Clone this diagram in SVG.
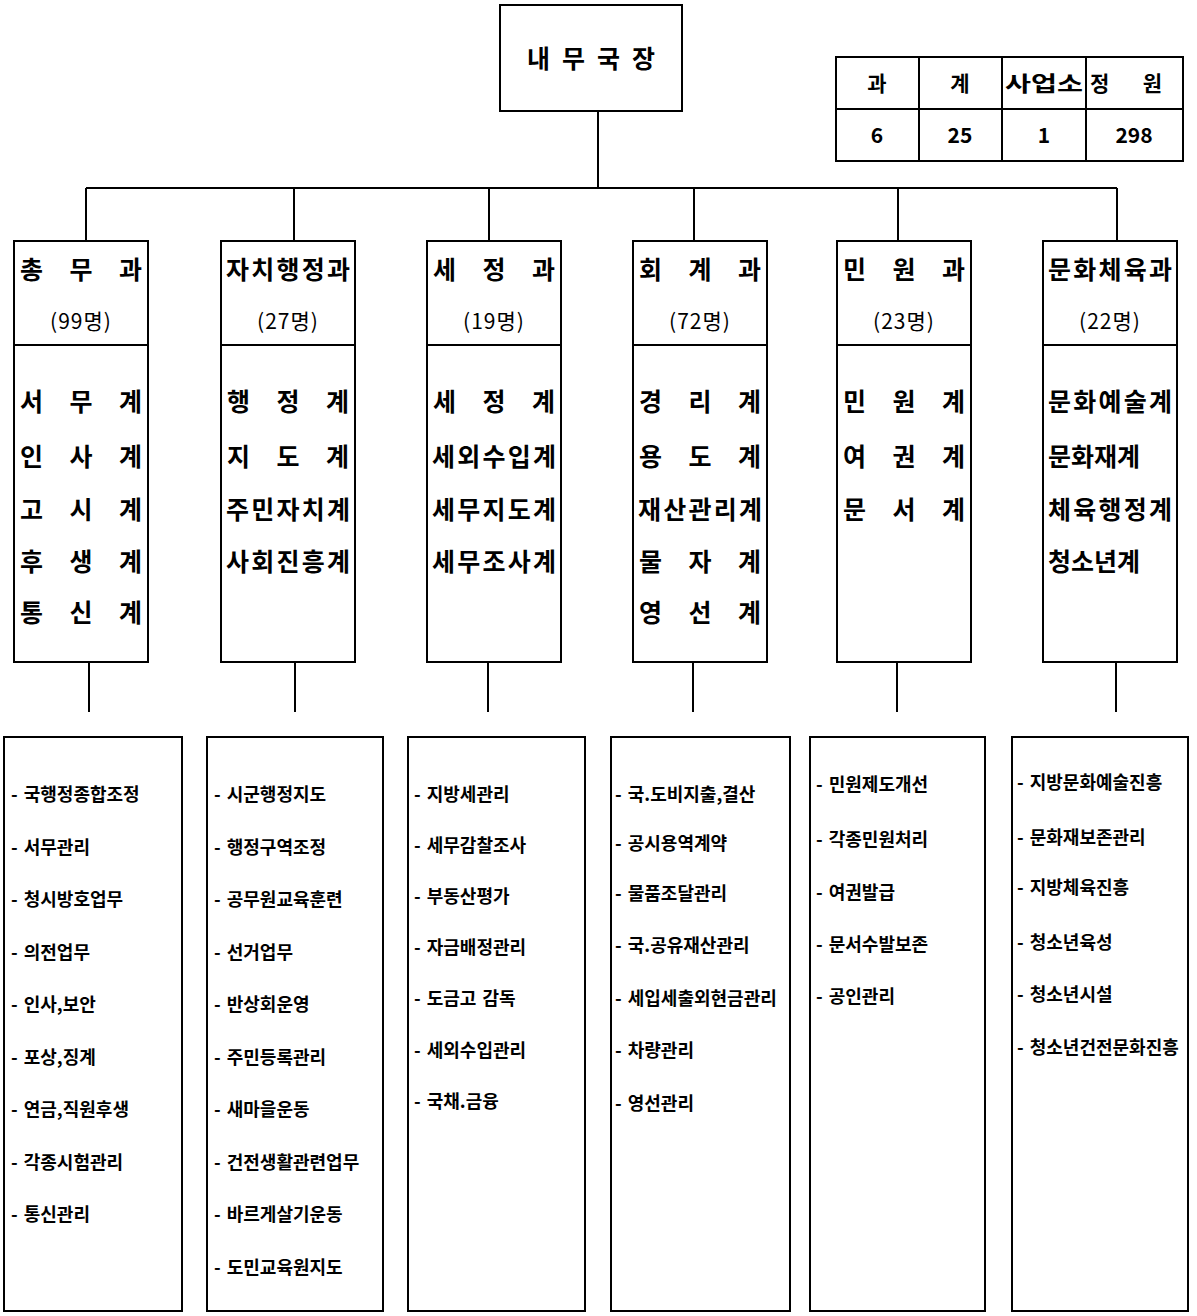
<svg xmlns="http://www.w3.org/2000/svg" width="1197" height="1316" viewBox="0 0 1197 1316">
<style>
.bx{fill:none;stroke:#000;stroke-width:2}
.ln{fill:none;stroke:#000;stroke-width:2}
.t{font-family:"Noto Sans CJK KR","Noto Sans",sans-serif;fill:#000}
.h{font-size:25px;font-weight:700}
.p{font-size:21px;font-weight:400;letter-spacing:1px}
.s{font-size:18px;font-weight:700;word-spacing:2px}
.tb{font-size:21px;font-weight:700}
</style>
<rect width="1197" height="1316" fill="#fff"/>
<g id="connectors">
<path class="ln" d="M598 111V188M86 188H1117M86 188V241M294 188V241M489 188V241M694 188V241M898 188V241M1117 188V241"/>
<path class="ln" d="M89 662V712M295 662V712M488 662V712M693 662V712M897 662V712M1116 662V712"/>
</g>
<g id="chief">
<rect class="bx" x="500" y="5" width="182" height="106"/>
<text class="t h" x="527" y="68" textLength="128" lengthAdjust="spacing">내 무 국 장</text>
</g>
<g id="summary">
<rect class="bx" x="836" y="57" width="347" height="104"/>
<path class="ln" d="M836 109H1183M919 57V161M1002 57V161M1086 57V161"/>
<text class="t tb" x="877" y="91" text-anchor="middle">과</text>
<text class="t tb" x="960" y="91" text-anchor="middle">계</text>
<text class="t tb" x="1044" y="91" text-anchor="middle" textLength="78" lengthAdjust="spacingAndGlyphs">사업소</text>
<text class="t tb" x="1090" y="91" textLength="72" lengthAdjust="spacing">정 원</text>
<text class="t tb" x="877" y="143" text-anchor="middle">6</text>
<text class="t tb" x="960" y="143" text-anchor="middle">25</text>
<text class="t tb" x="1044" y="143" text-anchor="middle">1</text>
<text class="t tb" x="1134" y="143" text-anchor="middle">298</text>
</g>
<g id="dept1">
<rect class="bx" x="14" y="241" width="134" height="421"/>
<path class="ln" d="M14 345H148"/>
<text class="t h" x="20" y="279" textLength="122" lengthAdjust="spacing">총 무 과</text>
<text class="t p" x="81" y="329" text-anchor="middle">(99명)</text>
<text class="t h" x="20" y="411" textLength="122" lengthAdjust="spacing">서 무 계</text>
<text class="t h" x="20" y="466" textLength="122" lengthAdjust="spacing">인 사 계</text>
<text class="t h" x="20" y="519" textLength="122" lengthAdjust="spacing">고 시 계</text>
<text class="t h" x="20" y="571" textLength="122" lengthAdjust="spacing">후 생 계</text>
<text class="t h" x="20" y="622" textLength="122" lengthAdjust="spacing">통 신 계</text>
</g>
<g id="dept2">
<rect class="bx" x="221" y="241" width="134" height="421"/>
<path class="ln" d="M221 345H355"/>
<text class="t h" x="226" y="279" textLength="124" lengthAdjust="spacing">자치행정과</text>
<text class="t p" x="288" y="329" text-anchor="middle">(27명)</text>
<text class="t h" x="227" y="411" textLength="122" lengthAdjust="spacing">행 정 계</text>
<text class="t h" x="227" y="466" textLength="122" lengthAdjust="spacing">지 도 계</text>
<text class="t h" x="226" y="519" textLength="124" lengthAdjust="spacing">주민자치계</text>
<text class="t h" x="226" y="571" textLength="124" lengthAdjust="spacing">사회진흥계</text>
</g>
<g id="dept3">
<rect class="bx" x="427" y="241" width="134" height="421"/>
<path class="ln" d="M427 345H561"/>
<text class="t h" x="433" y="279" textLength="122" lengthAdjust="spacing">세 정 과</text>
<text class="t p" x="494" y="329" text-anchor="middle">(19명)</text>
<text class="t h" x="433" y="411" textLength="122" lengthAdjust="spacing">세 정 계</text>
<text class="t h" x="432" y="466" textLength="124" lengthAdjust="spacing">세외수입계</text>
<text class="t h" x="432" y="519" textLength="124" lengthAdjust="spacing">세무지도계</text>
<text class="t h" x="432" y="571" textLength="124" lengthAdjust="spacing">세무조사계</text>
</g>
<g id="dept4">
<rect class="bx" x="633" y="241" width="134" height="421"/>
<path class="ln" d="M633 345H767"/>
<text class="t h" x="639" y="279" textLength="122" lengthAdjust="spacing">회 계 과</text>
<text class="t p" x="700" y="329" text-anchor="middle">(72명)</text>
<text class="t h" x="639" y="411" textLength="122" lengthAdjust="spacing">경 리 계</text>
<text class="t h" x="639" y="466" textLength="122" lengthAdjust="spacing">용 도 계</text>
<text class="t h" x="638" y="519" textLength="124" lengthAdjust="spacing">재산관리계</text>
<text class="t h" x="639" y="571" textLength="122" lengthAdjust="spacing">물 자 계</text>
<text class="t h" x="639" y="622" textLength="122" lengthAdjust="spacing">영 선 계</text>
</g>
<g id="dept5">
<rect class="bx" x="837" y="241" width="134" height="421"/>
<path class="ln" d="M837 345H971"/>
<text class="t h" x="843" y="279" textLength="122" lengthAdjust="spacing">민 원 과</text>
<text class="t p" x="904" y="329" text-anchor="middle">(23명)</text>
<text class="t h" x="843" y="411" textLength="122" lengthAdjust="spacing">민 원 계</text>
<text class="t h" x="843" y="466" textLength="122" lengthAdjust="spacing">여 권 계</text>
<text class="t h" x="843" y="519" textLength="122" lengthAdjust="spacing">문 서 계</text>
</g>
<g id="dept6">
<rect class="bx" x="1043" y="241" width="134" height="421"/>
<path class="ln" d="M1043 345H1177"/>
<text class="t h" x="1048" y="279" textLength="124" lengthAdjust="spacing">문화체육과</text>
<text class="t p" x="1110" y="329" text-anchor="middle">(22명)</text>
<text class="t h" x="1048" y="411" textLength="124" lengthAdjust="spacing">문화예술계</text>
<text class="t h" x="1048" y="466">문화재계</text>
<text class="t h" x="1048" y="519" textLength="124" lengthAdjust="spacing">체육행정계</text>
<text class="t h" x="1048" y="571">청소년계</text>
</g>
<g id="duties1">
<rect class="bx" x="4" y="737" width="178" height="574"/>
<text class="t s" x="11" y="801">- 국행정종합조정</text>
<text class="t s" x="11" y="854">- 서무관리</text>
<text class="t s" x="11" y="906">- 청시방호업무</text>
<text class="t s" x="11" y="959">- 의전업무</text>
<text class="t s" x="11" y="1011">- 인사,보안</text>
<text class="t s" x="11" y="1064">- 포상,징계</text>
<text class="t s" x="11" y="1116">- 연금,직원후생</text>
<text class="t s" x="11" y="1169">- 각종시험관리</text>
<text class="t s" x="11" y="1221">- 통신관리</text>
</g>
<g id="duties2">
<rect class="bx" x="207" y="737" width="176" height="574"/>
<text class="t s" x="214" y="801">- 시군행정지도</text>
<text class="t s" x="214" y="854">- 행정구역조정</text>
<text class="t s" x="214" y="906">- 공무원교육훈련</text>
<text class="t s" x="214" y="959">- 선거업무</text>
<text class="t s" x="214" y="1011">- 반상회운영</text>
<text class="t s" x="214" y="1064">- 주민등록관리</text>
<text class="t s" x="214" y="1116">- 새마을운동</text>
<text class="t s" x="214" y="1169">- 건전생활관련업무</text>
<text class="t s" x="214" y="1221">- 바르게살기운동</text>
<text class="t s" x="214" y="1274">- 도민교육원지도</text>
</g>
<g id="duties3">
<rect class="bx" x="408" y="737" width="177" height="574"/>
<text class="t s" x="414" y="801">- 지방세관리</text>
<text class="t s" x="414" y="852">- 세무감찰조사</text>
<text class="t s" x="414" y="903">- 부동산평가</text>
<text class="t s" x="414" y="954">- 자금배정관리</text>
<text class="t s" x="414" y="1005">- 도금고 감독</text>
<text class="t s" x="414" y="1057">- 세외수입관리</text>
<text class="t s" x="414" y="1108">- 국채.금융</text>
</g>
<g id="duties4">
<rect class="bx" x="611" y="737" width="179" height="574"/>
<text class="t s" x="615" y="801">- 국.도비지출,결산</text>
<text class="t s" x="615" y="850">- 공시용역계약</text>
<text class="t s" x="615" y="900">- 물품조달관리</text>
<text class="t s" x="615" y="952">- 국.공유재산관리</text>
<text class="t s" x="615" y="1005">- 세입세출외현금관리</text>
<text class="t s" x="615" y="1057">- 차량관리</text>
<text class="t s" x="615" y="1110">- 영선관리</text>
</g>
<g id="duties5">
<rect class="bx" x="810" y="737" width="175" height="574"/>
<text class="t s" x="816" y="791">- 민원제도개선</text>
<text class="t s" x="816" y="846">- 각종민원처리</text>
<text class="t s" x="816" y="899">- 여권발급</text>
<text class="t s" x="816" y="951">- 문서수발보존</text>
<text class="t s" x="816" y="1003">- 공인관리</text>
</g>
<g id="duties6">
<rect class="bx" x="1012" y="737" width="176" height="574"/>
<text class="t s" x="1017" y="789">- 지방문화예술진흥</text>
<text class="t s" x="1017" y="844">- 문화재보존관리</text>
<text class="t s" x="1017" y="894">- 지방체육진흥</text>
<text class="t s" x="1017" y="949">- 청소년육성</text>
<text class="t s" x="1017" y="1001">- 청소년시설</text>
<text class="t s" x="1017" y="1054">- 청소년건전문화진흥</text>
</g>
</svg>
